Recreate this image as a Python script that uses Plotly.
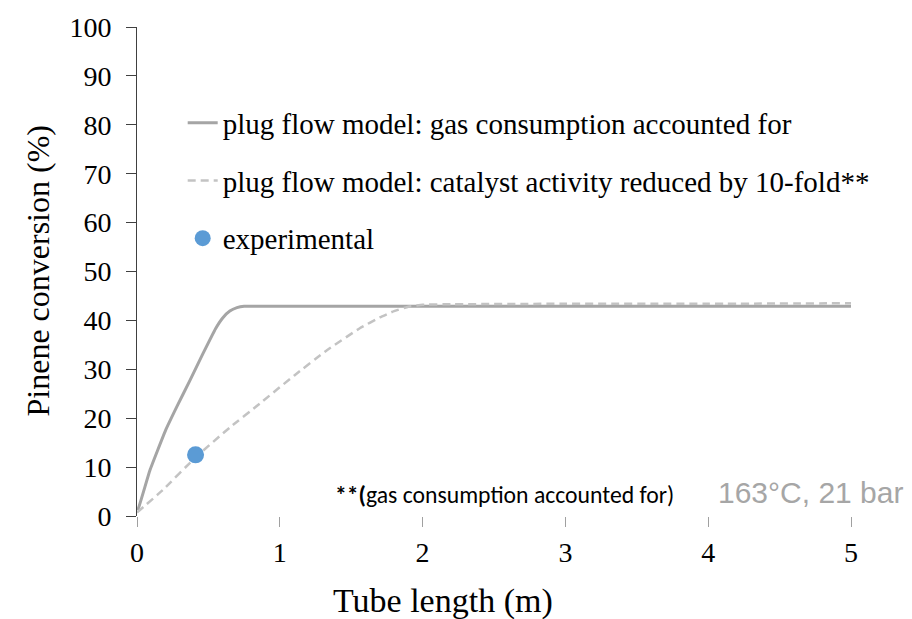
import plotly.graph_objects as go

# Tube length (m) vs pinene conversion (%)
x_gas = [0, 0.01, 0.09, 0.2, 0.28, 0.37, 0.46, 0.55, 0.6, 0.65, 0.7, 0.75, 1, 2, 3, 4, 5]
y_gas = [1.3, 1.6, 9.3, 17.5, 22.4, 27.7, 33.1, 38.3, 40.5, 41.9, 42.6, 42.9, 42.9, 42.9, 42.9, 42.9, 42.9]

x_cat = [0, 0.18, 0.41, 0.65, 0.86, 1.1, 1.33, 1.56, 1.7, 1.8, 1.9, 2.0, 2.2, 3, 4, 5]
y_cat = [0.7, 5.3, 12.0, 18.1, 23.0, 28.7, 33.9, 38.4, 40.6, 41.9, 42.8, 43.2, 43.3, 43.4, 43.4, 43.5]

x_exp = [0.41]
y_exp = [12.5]

names = [
    "plug flow model: gas consumption accounted for",
    "plug flow model: catalyst activity reduced by 10-fold**",
    "experimental",
]

x_ticks = [0, 1, 2, 3, 4, 5]
y_ticks = [0, 10, 20, 30, 40, 50, 60, 70, 80, 90, 100]

SERIF = "Liberation Serif"

fig = go.Figure()
fig.add_trace(go.Scatter(
    x=x_gas, y=y_gas, mode="lines", name=names[0], legendgroup="a",
    line=dict(color="#a5a5a5", width=3, shape="spline", smoothing=0.3),
))
fig.add_trace(go.Scatter(
    x=x_cat, y=y_cat, mode="lines", name=names[1], legendgroup="b",
    line=dict(color="#c3c3c3", width=2.5, dash="8px,5px", shape="spline", smoothing=0.3),
))
fig.add_trace(go.Scatter(
    x=x_exp, y=y_exp, mode="markers", name=names[2], legendgroup="c",
    marker=dict(color="#5b9bd5", size=17),
))

fig.update_layout(
    width=912, height=619,
    margin=dict(l=137, r=61, t=24, b=103),
    paper_bgcolor="white", plot_bgcolor="white",
    font=dict(family=SERIF, color="black"),
    showlegend=True,
    legend=dict(
        x=0.064, y=0.856, xanchor="left", yanchor="top",
        font=dict(family=SERIF, size=29, color="black"),
        bgcolor="rgba(0,0,0,0)", tracegroupgap=17,
        itemwidth=30,
    ),
    xaxis=dict(
        range=[0, 5], tickvals=x_ticks, showgrid=False, zeroline=False,
        showline=False, ticks="outside", ticklen=10, tickwidth=1,
        tickcolor="#a0a0a0", tickfont=dict(family=SERIF, size=28, color="black"),
        ticklabelstandoff=1,
    ),
    yaxis=dict(
        range=[0, 100], tickvals=y_ticks, showgrid=False, zeroline=False,
        showline=True, linecolor="#404040", linewidth=1,
        ticks="outside", ticklen=10, tickwidth=1, tickcolor="#404040",
        tickfont=dict(family=SERIF, size=28, color="black"), ticklabelstandoff=9,
    ),
    annotations=[
        dict(text="Tube length (m)", xref="paper", yref="paper",
             x=(443 - 137) / 714, y=(516 - 602) / 492, xanchor="center", yanchor="middle",
             showarrow=False, font=dict(family=SERIF, size=34)),
        dict(text="Pinene conversion (%)", xref="paper", yref="paper",
             x=(37 - 137) / 714, y=0.5, xanchor="center", yanchor="middle",
             textangle=-90, showarrow=False, font=dict(family=SERIF, size=32)),
        dict(text="<b>**(</b>gas consumption accounted for)", xref="paper", yref="paper",
             x=(333 - 137) / 714, y=(516 - 494) / 492, xanchor="left", yanchor="middle",
             showarrow=False, font=dict(family="Carlito", size=23.7, color="black")),
        dict(text="163°C, 21 bar", xref="paper", yref="paper",
             x=(905 - 137) / 714, y=(516 - 492) / 492, xanchor="right", yanchor="middle",
             showarrow=False, font=dict(family="Liberation Sans", size=30, color="#a6a6a6")),
    ],
)

fig.write_html("out.html")
